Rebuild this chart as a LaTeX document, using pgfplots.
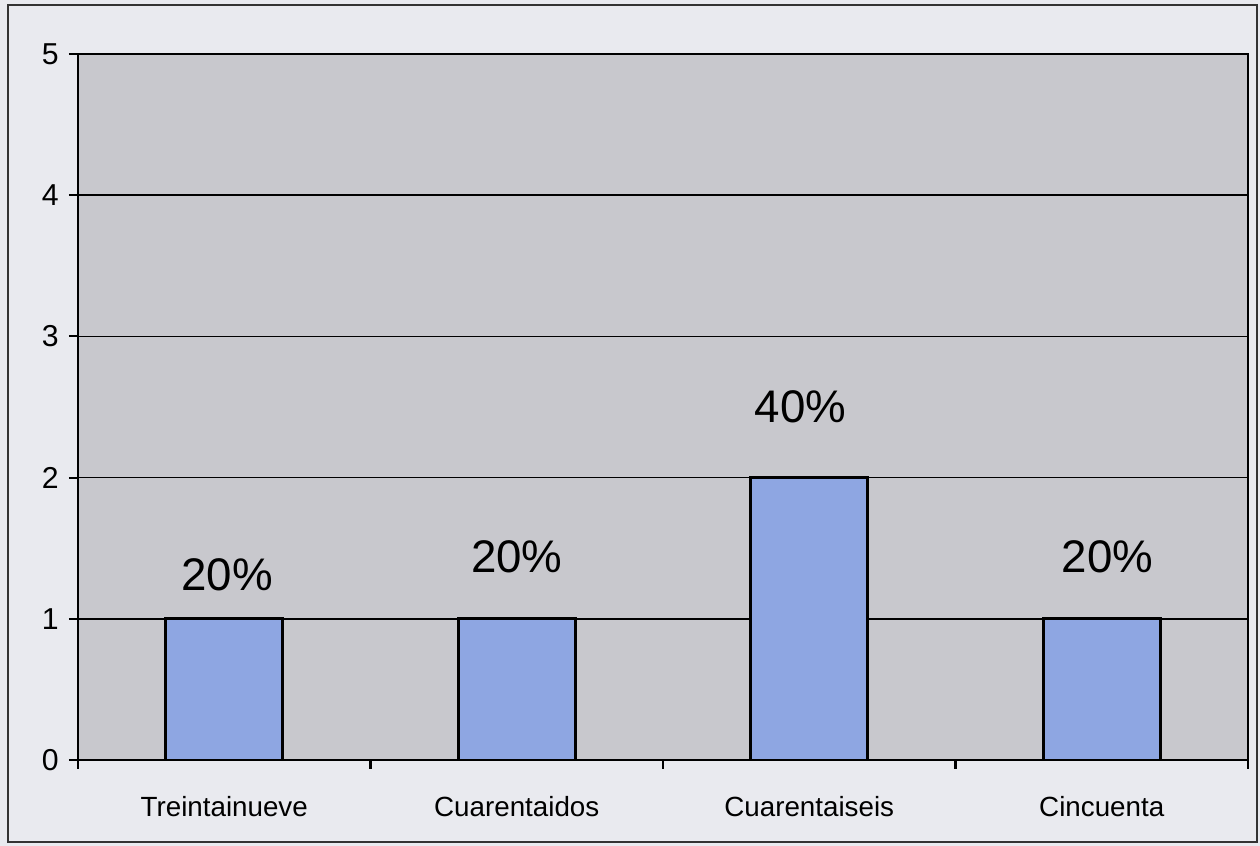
\documentclass[border=0pt]{standalone}
\usepackage{pgfplots}
\pgfplotsset{compat=1.18}
\usepackage{fontspec}
\setmainfont{Liberation Sans}

\definecolor{pagebg}{RGB}{233,234,239}
\definecolor{plotbg}{RGB}{200,200,205}
\definecolor{barblue}{RGB}{142,166,226}

\begin{document}
\begin{tikzpicture}
% chart area behind the axis (axis box south west sits at the origin)
\fill[pagebg] (-7.8mm,-8.6mm) rectangle (118.2mm,76mm);
\begin{axis}[
    scale only axis,
    width=117mm, height=70.6mm,
    ybar, bar width=11.7mm,
    xmin=-0.5, xmax=3.5,
    ymin=0, ymax=5,
    ytick={0,1,2,3,4,5},
    ymajorgrids, grid style={black, line width=0.5pt},
    axis background/.style={fill=plotbg},
    axis line style={black, line width=0.6pt},
    xtick={-0.5,0.5,1.5,2.5,3.5},
    xticklabels={},
    extra x ticks={0,1,2,3},
    extra x tick labels={Treintainueve,Cuarentaidos,Cuarentaiseis,Cincuenta},
    extra x tick style={major tick length=0pt},
    major tick length=0.9mm,
    tick style={black, line width=0.6pt},
    y tick label style={font=\fontsize{8.6}{10}\selectfont, xshift=0.2mm},
    x tick label style={font=\fontsize{7.9}{9}\selectfont, yshift=-2.4mm},
    tick align=outside, tick pos=left,
    /pgf/number format/assume math mode=true,
]
\addplot[fill=barblue, draw=black, line width=0.8pt] coordinates {
    (0,1) (1,1) (2,2) (3,1)};
\node[font=\fontsize{13}{15}\selectfont] at (axis cs:0.01,1.31) {20\%};
\node[font=\fontsize{13}{15}\selectfont] at (axis cs:1.00,1.44) {20\%};
\node[font=\fontsize{13}{15}\selectfont] at (axis cs:1.97,2.50) {40\%};
\node[font=\fontsize{13}{15}\selectfont] at (axis cs:3.02,1.44) {20\%};
\end{axis}
\draw[black!80, line width=0.6pt] (-7mm,-8.2mm) rectangle (117.9mm,75.5mm);
\end{tikzpicture}
\end{document}
